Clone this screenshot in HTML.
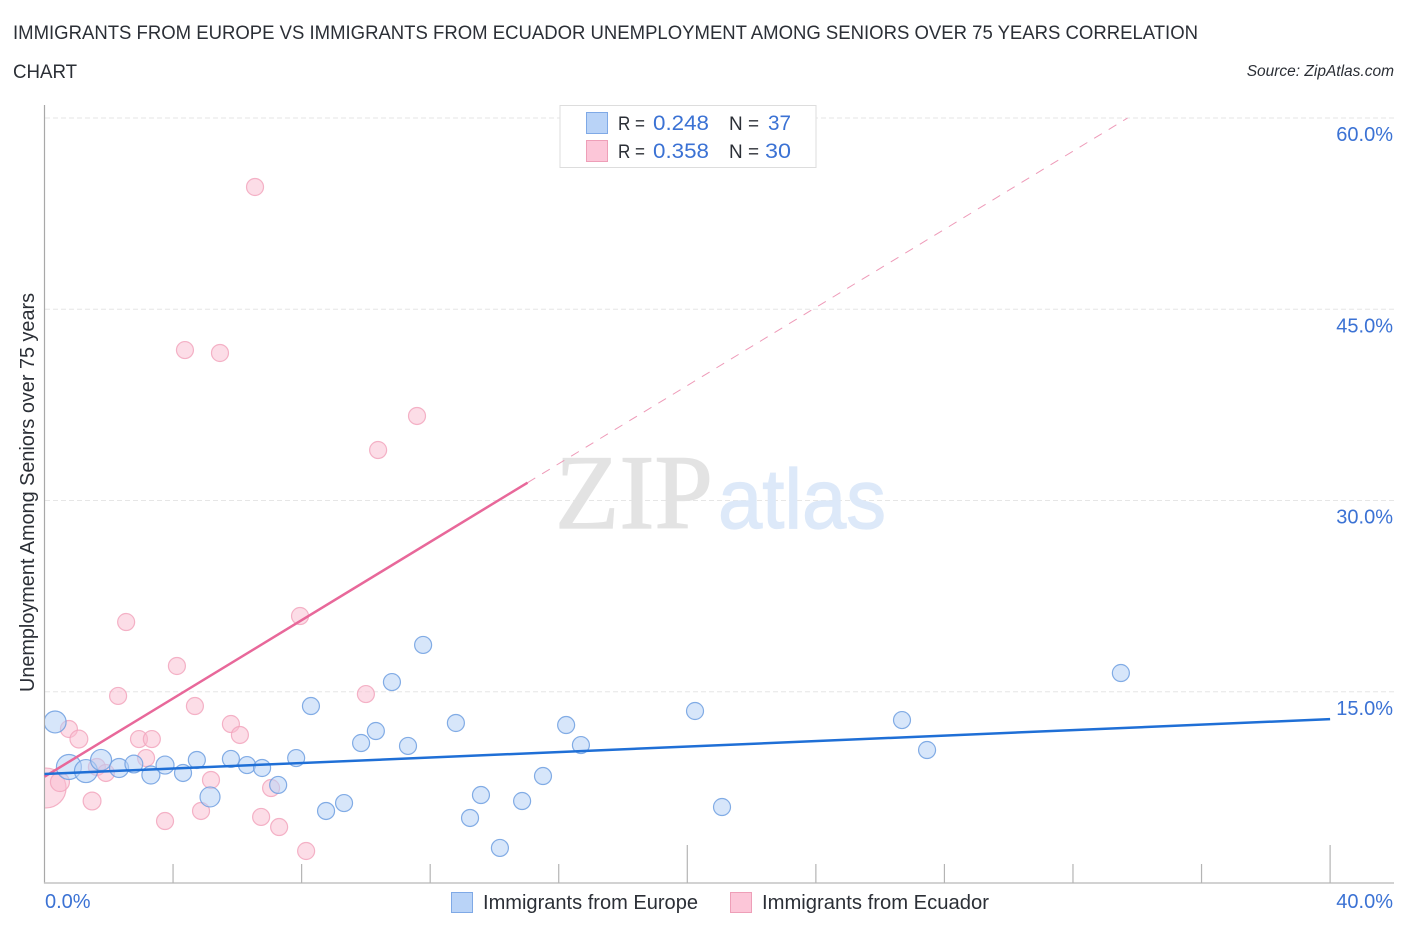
<!DOCTYPE html>
<html lang="en">
<head>
<meta charset="utf-8">
<title>Immigrants from Europe vs Immigrants from Ecuador correlation chart</title>
<style>
  html, body { margin: 0; padding: 0; background: #fff; }
  svg { display: block; font-family: "Liberation Sans", sans-serif; }
  .dark { fill: #2b2f36; }
  .blue { fill: #3b72d4; }
</style>
</head>
<body>
<svg id="chart" xmlns="http://www.w3.org/2000/svg" width="1406" height="930" viewBox="0 0 1406 930">
  <defs>
    <clipPath id="plot-clip"><rect x="45" y="105" width="1349" height="778"/></clipPath>
  </defs>
  <rect x="0" y="0" width="1406" height="930" fill="#ffffff"/>

  <text class="dark" x="13" y="39" font-size="19.5" textLength="1185" lengthAdjust="spacingAndGlyphs">IMMIGRANTS FROM EUROPE VS IMMIGRANTS FROM ECUADOR UNEMPLOYMENT AMONG SENIORS OVER 75 YEARS CORRELATION</text>
  <text class="dark" x="13" y="78" font-size="19.5" textLength="64" lengthAdjust="spacingAndGlyphs">CHART</text>
  <text class="dark" x="1394" y="76" font-size="15.5" font-style="italic" text-anchor="end">Source: ZipAtlas.com</text>

  <g id="grid-layer"></g>

  <g>
    <text x="555" y="528" font-family="'Liberation Serif', serif" font-size="106" fill="#e3e3e3" stroke="#e3e3e3" stroke-width="1.2" textLength="158" lengthAdjust="spacingAndGlyphs">ZIP</text>
    <text x="718" y="528" font-size="84" fill="#dde9f9" stroke="#dde9f9" stroke-width="1.2" textLength="168" lengthAdjust="spacingAndGlyphs">atlas</text>
  </g>

  <g id="axis-layer"></g>
  <g id="point-layer" clip-path="url(#plot-clip)"></g>
  <g id="trend-layer"></g>
  <g id="label-layer"></g>

  <text class="dark" transform="translate(34 692) rotate(-90)" font-size="20" textLength="399" lengthAdjust="spacingAndGlyphs">Unemployment Among Seniors over 75 years</text>

  <g>
    <rect x="560" y="105.500" width="256" height="62" fill="#ffffff" stroke="#dddddd" stroke-width="1"/>
    <rect x="586.500" y="112.500" width="21" height="21" fill="#b9d3f7" stroke="#7fa9e6" stroke-width="1"/>
    <rect x="586.500" y="140.500" width="21" height="21" fill="#fcc6d8" stroke="#ee9fb8" stroke-width="1"/>
    <text class="dark" x="618" y="130" font-size="19.500" textLength="27" lengthAdjust="spacingAndGlyphs">R =</text>
    <text class="blue" x="653" y="130" font-size="21" textLength="56" lengthAdjust="spacingAndGlyphs">0.248</text>
    <text class="dark" x="729" y="130" font-size="19.500" textLength="30" lengthAdjust="spacingAndGlyphs">N =</text>
    <text class="blue" x="768" y="130" font-size="21" textLength="23" lengthAdjust="spacingAndGlyphs">37</text>
    <text class="dark" x="618" y="158" font-size="19.500" textLength="27" lengthAdjust="spacingAndGlyphs">R =</text>
    <text class="blue" x="653" y="158" font-size="21" textLength="56" lengthAdjust="spacingAndGlyphs">0.358</text>
    <text class="dark" x="729" y="158" font-size="19.500" textLength="30" lengthAdjust="spacingAndGlyphs">N =</text>
    <text class="blue" x="765" y="158" font-size="21" textLength="26" lengthAdjust="spacingAndGlyphs">30</text>
  </g>

  <g>
    <rect x="451.500" y="892.500" width="21" height="20" fill="#b9d3f7" stroke="#7fa9e6" stroke-width="1"/>
    <text class="dark" x="483" y="909" font-size="20" textLength="215" lengthAdjust="spacingAndGlyphs">Immigrants from Europe</text>
    <rect x="730.500" y="892.500" width="21" height="20" fill="#fcc6d8" stroke="#ee9fb8" stroke-width="1"/>
    <text class="dark" x="762" y="909" font-size="20" textLength="227" lengthAdjust="spacingAndGlyphs">Immigrants from Ecuador</text>
  </g>
</svg>

<script>
// ---- Chart data (percent values) ----
const xTickValues = [0, 4, 8, 12, 16, 20, 24, 28, 32, 36, 40];
const xMajorTicks = [20, 40];
const xTickLabels = ["0.0%", "40.0%"];
const xLabelValues = [0, 40];
const yTickValues = [15, 30, 45, 60];
const yTickLabels = ["15.0%", "30.0%", "45.0%", "60.0%"];

const europeX = [0.33, 0.76, 1.29, 1.76, 2.32, 2.78, 3.31, 3.75, 4.31, 4.74, 5.15, 5.80, 6.30, 6.77, 7.27, 7.83, 8.29, 8.76, 9.32, 9.85, 10.31, 10.81, 11.31, 11.78, 12.80, 13.24, 13.58, 14.17, 14.86, 15.51, 16.23, 16.69, 20.24, 21.08, 26.68, 27.46, 33.49];
const europeY = [12.63, 9.10, 8.78, 9.65, 9.02, 9.33, 8.47, 9.25, 8.63, 9.65, 6.75, 9.73, 9.25, 9.02, 7.69, 9.80, 13.88, 5.65, 6.27, 10.98, 11.92, 15.76, 10.75, 18.67, 12.55, 5.10, 6.90, 2.75, 6.43, 8.39, 12.39, 10.82, 13.49, 5.96, 12.78, 10.43, 16.47];
const europeWeight = [1.67, 2.16, 1.83, 1.53, 1.25, 1.1, 1.12, 1.12, 1, 1, 1.38, 1, 1, 1, 1, 1, 1, 1, 1, 1, 1, 1, 1, 1, 1, 1, 1, 1, 1, 1, 1, 1, 1, 1, 1, 1, 1];

const ecuadorX = [0.05, 0.48, 0.76, 1.07, 1.48, 1.63, 1.91, 2.29, 2.54, 2.94, 3.34, 3.16, 3.75, 4.12, 4.37, 4.68, 5.18, 4.87, 5.46, 5.80, 6.08, 6.55, 6.74, 7.05, 7.30, 7.95, 8.14, 10.00, 10.38, 11.59];
const ecuadorY = [7.45, 7.92, 12.08, 11.29, 6.43, 9.10, 8.63, 14.67, 20.47, 11.29, 11.29, 9.80, 4.86, 17.02, 41.80, 13.88, 8.08, 5.65, 41.57, 12.47, 11.61, 54.59, 5.18, 7.45, 4.39, 20.94, 2.51, 14.82, 33.96, 36.63];
const ecuadorWeight = [5.5, 1.25, 1, 1.1, 1.1, 1, 1, 1, 1, 1, 1, 1, 1, 1, 1, 1, 1, 1, 1, 1, 1, 1, 1, 1, 1, 1, 1, 1, 1, 1];

const europeTrendX = [0, 40];
const europeTrendY = [8.55, 12.85];
const ecuadorTrendX = [0, 15.03];
const ecuadorTrendY = [8.34, 31.4];
const ecuadorProjectionX = [15.03, 33.7];
const ecuadorProjectionY = [31.4, 60];

// ---- Axis functions ----
const SVG_NS = "http://www.w3.org/2000/svg";
function xScale(v) { return 44.5 + v * 32.14; }
function yScale(v) { return 883 - v * 12.75; }
function radius(w) { return 8.5 * Math.sqrt(w); }
function make(tag, attrs, parent) {
  const el = document.createElementNS(SVG_NS, tag);
  for (const k in attrs) el.setAttribute(k, attrs[k]);
  parent.appendChild(el);
  return el;
}

const gridLayer = document.getElementById("grid-layer");
const axisLayer = document.getElementById("axis-layer");
const pointLayer = document.getElementById("point-layer");
const trendLayer = document.getElementById("trend-layer");
const labelLayer = document.getElementById("label-layer");

// gridlines and y labels
yTickValues.forEach(function (v, i) {
  const g = make("line", { x1: 45, x2: 1394, y1: yScale(v), y2: yScale(v), stroke: "#e6e6e6", "stroke-width": 1, "stroke-dasharray": "5 3" }, gridLayer);
  
  
  const t = make("text", { x: 1393, y: yScale(v) + 23, "font-size": 20, "text-anchor": "end", class: "blue" }, labelLayer);
  
  
  t.textContent = yTickLabels[i];
});

// axes
const yAxis = make("line", { x1: 44.5, x2: 44.5, y1: 105, y2: 883.5, stroke: "#a8a8a8", "stroke-width": 1.2 }, axisLayer);


const xAxis = make("line", { x1: 44, x2: 1394, y1: 883, y2: 883, stroke: "#c4c4c4", "stroke-width": 1.6 }, axisLayer);



xTickValues.forEach(function (v) {
  if (v === 0) return;
  const top = xMajorTicks.indexOf(v) >= 0 ? 845 : 864;
  const tk = make("line", { x1: xScale(v), x2: xScale(v), y1: top, y2: 883, stroke: "#b4b4b4", "stroke-width": 1.2 }, axisLayer);
  
  
});

xLabelValues.forEach(function (v, i) {
  const anchorEnd = i === xLabelValues.length - 1;
  const t = make("text", { x: anchorEnd ? 1393 : 45, y: 908, "font-size": 20, "text-anchor": anchorEnd ? "end" : "start", class: "blue" }, labelLayer);
  
  
  t.textContent = xTickLabels[i];
});

// scatter points
ecuadorX.forEach(function (v, i) {
  const c = make("circle", { cx: xScale(v), cy: yScale(ecuadorY[i]), r: radius(ecuadorWeight[i]), fill: "#f9bccf", "fill-opacity": 0.5, stroke: "#f2a6bd", "stroke-opacity": 0.85, "stroke-width": 1.2 }, pointLayer);
  
  
});
europeX.forEach(function (v, i) {
  const c = make("circle", { cx: xScale(v), cy: yScale(europeY[i]), r: radius(europeWeight[i]), fill: "#b6d1f5", "fill-opacity": 0.55, stroke: "#6f9fe0", "stroke-opacity": 0.85, "stroke-width": 1.2 }, pointLayer);
  
  
});

// trend lines
const projection = make("line", { x1: xScale(ecuadorProjectionX[0]), y1: yScale(ecuadorProjectionY[0]), x2: xScale(ecuadorProjectionX[1]), y2: yScale(ecuadorProjectionY[1]), stroke: "#ee9ab8", "stroke-width": 1, "stroke-dasharray": "9 8" }, trendLayer);


const ecuadorTrend = make("line", { x1: xScale(ecuadorTrendX[0]), y1: yScale(ecuadorTrendY[0]), x2: xScale(ecuadorTrendX[1]), y2: yScale(ecuadorTrendY[1]), stroke: "#e8689a", "stroke-width": 2.5 }, trendLayer);


const europeTrend = make("line", { x1: xScale(europeTrendX[0]), y1: yScale(europeTrendY[0]), x2: xScale(europeTrendX[1]), y2: yScale(europeTrendY[1]), stroke: "#1f6fd6", "stroke-width": 2.5 }, trendLayer);


</script>
</body>
</html>
